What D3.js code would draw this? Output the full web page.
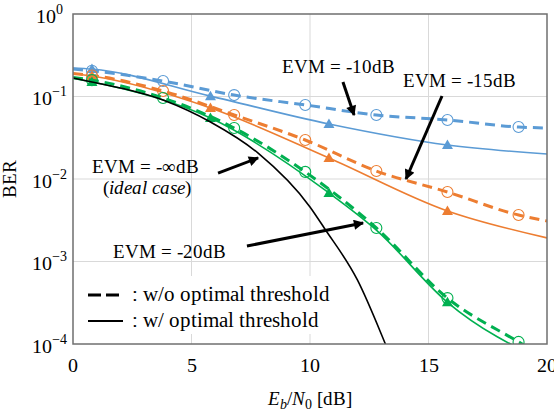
<!DOCTYPE html>
<html>
<head>
<meta charset="utf-8">
<script src="https://cdn.jsdelivr.net/npm/d3@7"></script>
<style>
  @font-face { font-family: "PlotSerif"; src: local("Liberation Serif"), local("LiberationSerif-Regular"), local("Times New Roman"); font-style: normal; }
  @font-face { font-family: "PlotSerif"; src: local("Liberation Serif Italic"), local("LiberationSerif-Italic"), local("Times New Roman Italic"); font-style: italic; }
  body { margin: 0; background: #fff; }
  svg { display: block; }
</style>
</head>
<body>
<svg width="554" height="413"></svg>
<script>
const width = 554;
const height = 413;
const margin = { left: 73, right: 7, top: 14, bottom: 69 };
const serif = "PlotSerif, 'Liberation Serif', 'Nimbus Roman', 'DejaVu Serif', serif";

// Eb/N0 [dB] positions of the markers
const snrCircle = [0.8, 3.8, 6.8, 9.8, 12.8, 15.8, 18.8];
const snrTri = [0.8, 5.8, 10.8, 15.8];
const snrDashed = [0, ...snrCircle, 20];
const snrSolid = [0, ...snrTri, 20];
const snrGreenSolid = [0, 0.8, 5.8, 10.8, 12.8, 15.8, 20];

// BER
const blueDashed = [0.215, 0.205, 0.154, 0.104, 0.079, 0.0597, 0.052, 0.0427, 0.0415];
const blueSolid = [0.222, 0.215, 0.101, 0.0464, 0.0258, 0.0201];
const orangeDashed = [0.19, 0.18, 0.1166, 0.0597, 0.0297, 0.0125, 0.00695, 0.00366, 0.0031];
const orangeSolid = [0.19, 0.177, 0.0726, 0.018, 0.0041, 0.00193];
const greenDashed = [0.17, 0.158, 0.096, 0.0415, 0.0122, 0.00255, 0.00036, 0.000106, 0.000066];
const greenSolid = [0.165, 0.15, 0.0548, 0.00677, 0.0024, 0.00032, 0.00006];
const idealSnr = [0, 0.8, 3.8, 5.8, 7.8, 10, 10.6, 12, 13.2, 13.5];
const idealBer = [0.1675, 0.15, 0.0907, 0.0491, 0.0207, 0.00458, 0.00255, 0.000597, 0.000097, 0.00006];

const xTicks = [0, 5, 10, 15, 20];
const yTicks = [0, -1, -2, -3, -4];

const series = [
  { color: "#5b9bd5", x: snrDashed, y: blueDashed, marks: snrCircle, dashed: true },
  { color: "#5b9bd5", x: snrSolid, y: blueSolid, marks: snrTri, dashed: false },
  { color: "#ed7d31", x: snrDashed, y: orangeDashed, marks: snrCircle, dashed: true },
  { color: "#ed7d31", x: snrSolid, y: orangeSolid, marks: snrTri, dashed: false },
  { color: "#00b050", x: snrDashed, y: greenDashed, marks: snrCircle, dashed: true },
  { color: "#00b050", x: snrGreenSolid, y: greenSolid, marks: snrTri, dashed: false }
];

const x = d3.scaleLinear().domain([0, 20]).range([margin.left, width - margin.right]);
const y = d3.scaleLog().domain([1e-4, 1]).range([height - margin.bottom, margin.top]);

const svg = d3.select("svg");

svg.append("defs").append("clipPath").attr("id", "plot")
  .append("rect")
  .attr("x", x(0)).attr("y", y(1))
  .attr("width", x(20) - x(0)).attr("height", y(1e-4) - y(1));

const arrowHead = svg.select("defs").append("marker")
  .attr("id", "arrow")
  .attr("viewBox", "0 0 10 10")
  .attr("refX", 9).attr("refY", 5)
  .attr("markerWidth", 4).attr("markerHeight", 3.4)
  .attr("markerUnits", "strokeWidth")
  .attr("orient", "auto");
arrowHead.append("path").attr("d", "M0,0 L10,5 L0,10 z").attr("fill", "#000");

// grid
const grid = svg.append("g").attr("stroke", "#d9d9d9").attr("stroke-width", 1);
grid.selectAll("line.v").data(xTicks.slice(1, -1)).enter().append("line")
  .attr("x1", d => x(d)).attr("x2", d => x(d))
  .attr("y1", y(1)).attr("y2", y(1e-4));
grid.selectAll("line.h").data(yTicks.slice(1, -1)).enter().append("line")
  .attr("x1", x(0)).attr("x2", x(20))
  .attr("y1", d => y(Math.pow(10, d))).attr("y2", d => y(Math.pow(10, d)));

const line = d3.line()
  .x(d => x(d[0]))
  .y(d => y(d[1]))
  .curve(d3.curveMonotoneX);

const plot = svg.append("g").attr("clip-path", "url(#plot)");

series.forEach(s => {
  const pts = s.x.map((v, i) => [v, s.y[i]]);
  plot.append("path")
    .attr("d", line(pts))
    .attr("fill", "none")
    .attr("stroke", s.color)
    .attr("stroke-width", s.dashed ? 3 : 1.6)
    .attr("stroke-dasharray", s.dashed ? "10,6" : null);

  const marks = pts.filter(p => s.marks.includes(p[0]));
  if (s.dashed) {
    plot.selectAll(null).data(marks).enter().append("circle")
      .attr("cx", d => x(d[0])).attr("cy", d => y(d[1]))
      .attr("r", 5.5)
      .attr("fill", "none")
      .attr("stroke", s.color)
      .attr("stroke-width", 1.1);
  } else {
    plot.selectAll(null).data(marks).enter().append("path")
      .attr("transform", d => `translate(${x(d[0])},${y(d[1])})`)
      .attr("d", "M0,-5.5 L5.5,4 L-5.5,4 z")
      .attr("fill", s.color);
  }
});

plot.append("path")
  .attr("d", line(idealSnr.map((v, i) => [v, idealBer[i]])))
  .attr("fill", "none")
  .attr("stroke", "#000")
  .attr("stroke-width", 1.6);

// legend
const lg = svg.append("g");
lg.append("rect").attr("x", 76).attr("y", 276).attr("width", 262).attr("height", 58).attr("fill", "#fff");
lg.append("line").attr("x1", 88).attr("x2", 119).attr("y1", 295).attr("y2", 295)
  .attr("stroke", "#000").attr("stroke-width", 3).attr("stroke-dasharray", "13,5");
lg.append("line").attr("x1", 88).attr("x2", 123).attr("y1", 321).attr("y2", 321)
  .attr("stroke", "#000").attr("stroke-width", 2.2);
lg.append("text").attr("x", 132).attr("y", 301).style("font-size", "20.5px").text(": w/o optimal threshold");
lg.append("text").attr("x", 132).attr("y", 327).style("font-size", "20.5px").text(": w/ optimal threshold");

// annotations (data coordinates)
const notes = [
  { text: "EVM = -10dB", at: [8.82, 0.193], anchor: "start" },
  { text: "EVM = -15dB", at: [13.92, 0.130], anchor: "start" },
  { text: "EVM = -\u221EdB", at: [3.08, 0.0118], anchor: "middle" },
  { text: "EVM = -20dB", at: [1.69, 0.0011], anchor: "start" }
];
svg.selectAll("text.note").data(notes).enter().append("text")
  .attr("class", "note")
  .attr("x", d => x(d.at[0])).attr("y", d => y(d.at[1]))
  .attr("text-anchor", d => d.anchor)
  .style("font-size", "19px")
  .text(d => d.text);
const ideal = svg.append("text")
  .attr("x", x(3.14)).attr("y", y(0.00658))
  .attr("text-anchor", "middle").style("font-size", "19px");
ideal.append("tspan").text("(");
ideal.append("tspan").style("font-style", "italic").text("ideal case");
ideal.append("tspan").text(")");

const arrows = [
  { from: [11.39, 0.15], to: [11.86, 0.0597] },
  { from: [15.57, 0.1014], to: [14.05, 0.0100] },
  { from: [6.12, 0.0118], to: [7.81, 0.018] },
  { from: [7.34, 0.00154], to: [12.24, 0.00293] }
];
svg.selectAll("line.arrow").data(arrows).enter().append("line")
  .attr("class", "arrow")
  .attr("x1", d => x(d.from[0])).attr("y1", d => y(d.from[1]))
  .attr("x2", d => x(d.to[0])).attr("y2", d => y(d.to[1]))
  .attr("stroke", "#000").attr("stroke-width", 3)
  .attr("marker-end", "url(#arrow)");

// frame
svg.append("rect")
  .attr("x", x(0)).attr("y", y(1))
  .attr("width", x(20) - x(0)).attr("height", y(1e-4) - y(1))
  .attr("fill", "none").attr("stroke", "#6f6f6f").attr("stroke-width", 1.5);

// tick labels
svg.selectAll("text.xt").data(xTicks).enter().append("text")
  .attr("x", d => x(d)).attr("y", 372)
  .attr("text-anchor", "middle").style("font-size", "20px")
  .text(d => d);

const yt = svg.selectAll("text.yt").data(yTicks).enter().append("text")
  .attr("x", 49).attr("y", d => y(Math.pow(10, d)) + 8.5)
  .attr("text-anchor", "middle").style("font-size", "20px");
yt.append("tspan").text("10");
yt.append("tspan").attr("dy", -9).style("font-size", "14px")
  .text(d => d === 0 ? "0" : "\u2212" + (-d));

// axis titles
svg.append("text")
  .attr("transform", `translate(16,${(y(1) + y(1e-4)) / 2}) rotate(-90)`)
  .attr("text-anchor", "middle").style("font-size", "19px")
  .text("BER");

const xl = svg.append("text")
  .attr("x", (x(0) + x(20)) / 2).attr("y", 405)
  .attr("text-anchor", "middle").style("font-size", "19px");
xl.append("tspan").style("font-style", "italic").text("E");
xl.append("tspan").attr("dy", 4).style("font-size", "14px").style("font-style", "italic").text("b");
xl.append("tspan").attr("dy", -4).text("/");
xl.append("tspan").style("font-style", "italic").text("N");
xl.append("tspan").attr("dy", 4).style("font-size", "14px").text("0");
xl.append("tspan").attr("dy", -4).text(" [dB]");

svg.selectAll("text").style("font-family", serif).attr("fill", "#000");
</script>
</body>
</html>
